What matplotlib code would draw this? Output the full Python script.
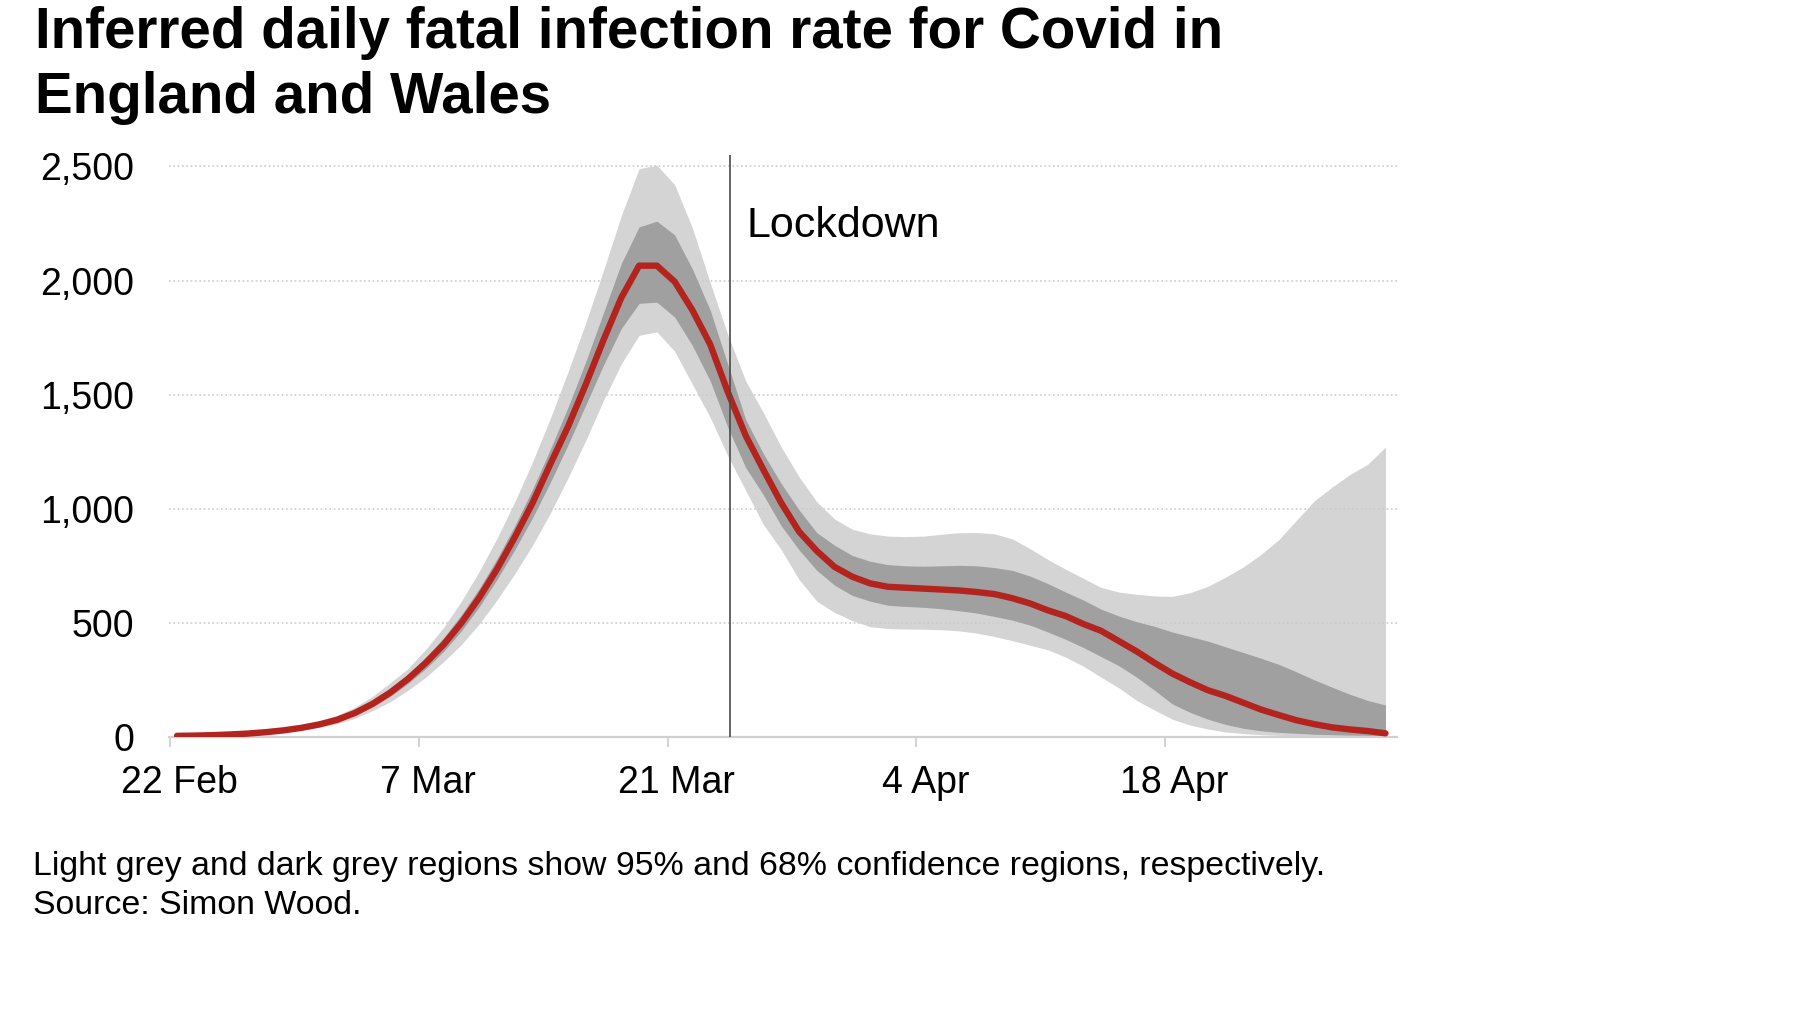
import matplotlib
matplotlib.use("Agg")
import matplotlib.pyplot as plt
import matplotlib.transforms as mtransforms
import numpy as np

plt.rcParams["font.family"] = ["Liberation Sans", "DejaVu Sans"]

# days since 22 Feb 2020 (points sit a little after midnight)
day_index = np.arange(69)
point_shift = 0.4

median = [5, 6, 8, 11, 15, 21, 29, 40, 55, 75,
          105, 145, 195, 255, 325, 405, 500, 610, 735, 875,
          1025, 1195, 1360, 1545, 1740, 1925, 2065, 2065, 1995, 1870,
          1720, 1510, 1320, 1170, 1025, 900, 815, 745, 702, 673,
          658, 654, 650, 646, 642, 635, 626, 608, 585, 555,
          530, 495, 465, 420, 375, 325, 278, 240, 205, 180,
          150, 120, 96, 73, 56, 42, 33, 26, 16]

dark_hi = [6, 7, 9, 12, 17, 23, 32, 44, 61, 83,
           115, 158, 212, 275, 350, 435, 535, 650, 780, 925,
           1085, 1260, 1445, 1645, 1860, 2075, 2235, 2260, 2200, 2050,
           1870, 1630, 1390, 1240, 1110, 995, 895, 840, 795, 770,
           755, 750, 748, 750, 752, 750, 742, 730, 705, 672,
           635, 600, 560, 530, 505, 485, 460, 440, 420, 395,
           370, 345, 318, 285, 250, 218, 187, 160, 140]

dark_lo = [4, 5, 7, 10, 13, 19, 26, 36, 50, 68,
           95, 132, 178, 235, 300, 375, 465, 570, 690, 820,
           960, 1115, 1280, 1455, 1630, 1790, 1900, 1905, 1840, 1715,
           1560, 1355, 1180, 1060, 925, 820, 730, 665, 620, 595,
           577, 572, 568, 562, 553, 543, 528, 512, 490, 460,
           428, 392, 352, 312, 262, 205, 145, 108, 78, 55,
           38, 27, 20, 16, 12, 10, 8, 7, 6]

light_hi = [7, 8, 10, 14, 19, 27, 37, 51, 70, 95,
            130, 178, 238, 300, 385, 480, 595, 725, 870, 1030,
            1205, 1395, 1600, 1815, 2045, 2285, 2490, 2505, 2420, 2230,
            1990, 1760, 1560, 1420, 1270, 1140, 1030, 955, 910, 890,
            880, 878, 880, 888, 895, 896, 890, 868, 825, 778,
            735, 695, 655, 635, 625, 618, 616, 632, 660, 700,
            745, 800, 865, 950, 1035, 1095, 1150, 1195, 1270]

light_lo = [3, 4, 6, 8, 11, 16, 22, 30, 42, 58,
            82, 115, 155, 205, 262, 330, 405, 495, 600, 715,
            840, 980, 1135, 1300, 1475, 1635, 1760, 1775, 1690, 1545,
            1400, 1230, 1080, 930, 820, 690, 595, 545, 510, 483,
            475, 473, 472, 470, 465, 455, 440, 422, 402, 382,
            350, 310, 262, 215, 160, 118, 78, 52, 35, 22,
            15, 10, 7, 5, 4, 3, 3, 2, 2]

tick_days = [0, 14, 28, 42, 56]
tick_labels = ["22 Feb", "7 Mar", "21 Mar", "4 Apr", "18 Apr"]
y_ticks = [0, 500, 1000, 1500, 2000, 2500]
lockdown_day = 31.5

x = day_index + point_shift

fig = plt.figure(figsize=(18.2, 10.23), dpi=100)
ax = fig.add_axes([0.0929, 0.2796, 0.6747, 0.5689])

ax.fill_between(x, light_lo, light_hi, color="#d4d4d4", lw=0, zorder=1)
ax.fill_between(x, dark_lo, dark_hi, color="#a0a0a0", lw=0, zorder=2)
ax.plot(x, median, color="#b3241f", lw=4.6, solid_capstyle="round",
        solid_joinstyle="round", zorder=3)

ax.axvline(lockdown_day, color="#4a4a4a", lw=1.2, zorder=4)
ax.text(lockdown_day + 0.95, 2190, "Lockdown", fontsize=31, va="baseline",
        ha="left", color="black")

ax.set_xlim(-0.05, 69.05)
ax.set_ylim(0, 2550)

ax.set_yticks(y_ticks)
ax.set_yticklabels([f"{v:,}" for v in y_ticks])
ax.set_xticks(tick_days)
ax.set_xticklabels(tick_labels)

ax.set_axisbelow("line")
ax.yaxis.grid(True, color="#cccccc", lw=1.2, linestyle=(0, (1, 1.6)))
for line in ax.get_ygridlines()[:1]:
    line.set_visible(False)

for side in ["top", "right", "left"]:
    ax.spines[side].set_visible(False)
ax.spines["bottom"].set_color("#d0d0d0")
ax.spines["bottom"].set_linewidth(1.6)

ax.tick_params(axis="y", length=0, pad=25, labelsize=27)
ax.tick_params(axis="x", length=7, width=1.3, color="#d0d0d0",
               pad=13, labelsize=27)
shift = mtransforms.ScaledTranslation(6.5 / 72, 0, fig.dpi_scale_trans)
for lab in ax.get_xticklabels():
    lab.set_transform(lab.get_transform() + shift)

fig.text(35 / 1820, 1 - 48 / 1023, "Inferred daily fatal infection rate for Covid in",
         fontsize=40.7, fontweight="bold", va="baseline", ha="left")
fig.text(35 / 1820, 1 - 113 / 1023, "England and Wales",
         fontsize=40.7, fontweight="bold", va="baseline", ha="left")

fig.text(33 / 1820, 1 - 875 / 1023,
         "Light grey and dark grey regions show 95% and 68% confidence regions, respectively.",
         fontsize=24.4, va="baseline", ha="left")
fig.text(33 / 1820, 1 - 914 / 1023, "Source: Simon Wood.",
         fontsize=24.4, va="baseline", ha="left")

fig.savefig("out.png", dpi=100, facecolor="white")
plt.close(fig)
